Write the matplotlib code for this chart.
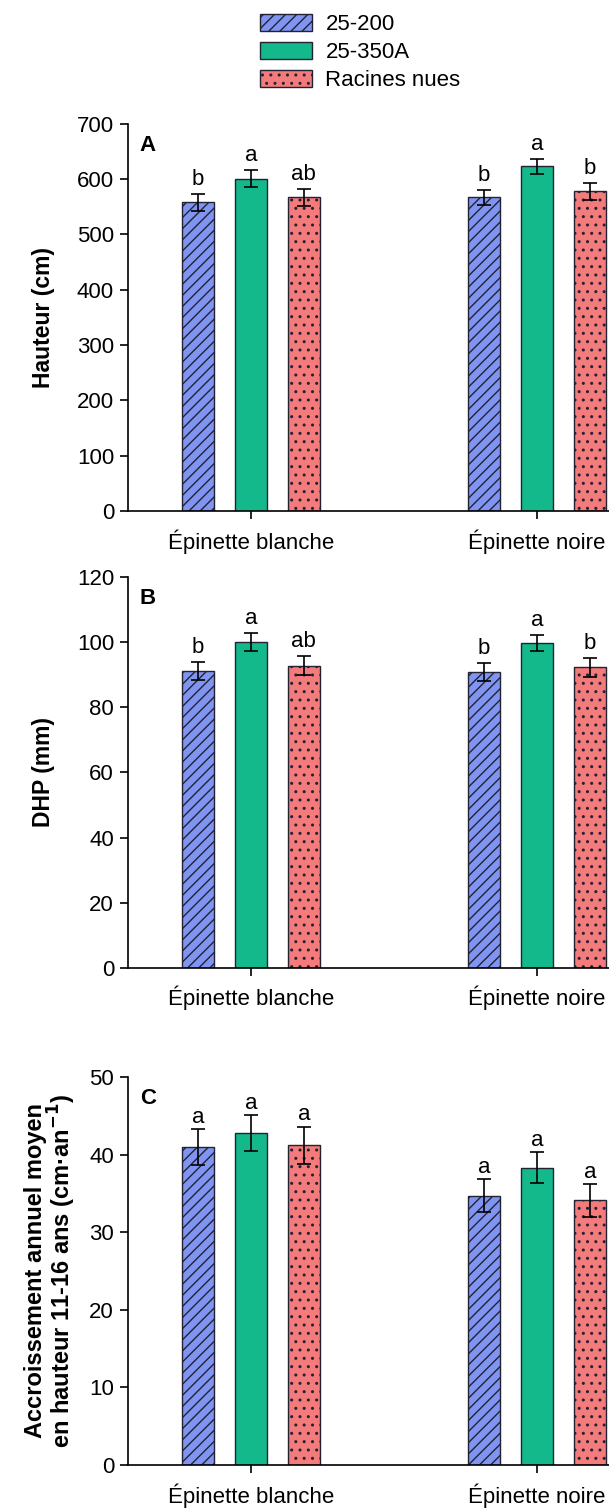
import numpy as np
import matplotlib
matplotlib.use('Agg')
import matplotlib.pyplot as plt

plt.rcParams['font.family'] = ['Liberation Sans', 'DejaVu Sans']
plt.rcParams['hatch.linewidth'] = 1.0

especes = ['Épinette blanche', 'Épinette noire']
traitements = ['25-200', '25-350A', 'Racines nues']
couleurs = ['#8094f2', '#13b98b', '#f47b7b']
hachures = ['///', '', '..']

# Hauteur (cm)
haut_moy = [[558, 567], [601, 623], [567, 578]]
haut_err = [[16, 14], [16, 14], [16, 15]]
haut_let = [['b', 'b'], ['a', 'a'], ['ab', 'b']]

# DHP (mm)
dhp_moy = [[91.2, 90.8], [100.0, 99.6], [92.7, 92.2]]
dhp_err = [[2.8, 2.7], [2.8, 2.5], [2.9, 2.8]]
dhp_let = [['b', 'b'], ['a', 'a'], ['ab', 'b']]

# Accroissement annuel moyen (cm/an)
acc_moy = [[41.0, 34.7], [42.8, 38.3], [41.2, 34.1]]
acc_err = [[2.3, 2.1], [2.3, 2.0], [2.4, 2.1]]
acc_let = [['a', 'a'], ['a', 'a'], ['a', 'a']]

panneaux = [
    ('A', haut_moy, haut_err, haut_let, 'Hauteur (cm)', 700, 100),
    ('B', dhp_moy, dhp_err, dhp_let, 'DHP (mm)', 120, 20),
    ('C', acc_moy, acc_err, acc_let,
     'Accroissement annuel moyen\nen hauteur 11-16 ans (cm·an$^{\\mathbf{-1}}$)', 50, 10),
]
positions = [(0.6615, 0.918), (0.359, 0.618), (0.0298, 0.2868)]
label_x = [-0.152, -0.152, -0.103]
label_fs = [16.5, 16.5, 17]
ecart = [6.5, 6.5, 4.5]

fig = plt.figure(figsize=(6.09, 15.10), dpi=100)
x = np.arange(len(especes))
decal = 0.185
larg = 0.112

for k, ((lettre, moy, err, lets, ylab, ymax, pas), (b, t)) in enumerate(zip(panneaux, positions)):
    ax = fig.add_axes([0.21, b, 0.79, t - b])
    for i in range(3):
        xi = x + (i - 1) * decal
        ax.bar(xi, moy[i], width=larg, color=couleurs[i], edgecolor='#222233',
               linewidth=1.0, hatch=hachures[i], label=traitements[i], zorder=2)
        ax.errorbar(xi, moy[i], yerr=err[i], fmt='none', ecolor='black',
                    elinewidth=1.2, capsize=5, capthick=1.2, zorder=3)
        for j in range(len(especes)):
            ax.annotate(lets[i][j], (xi[j], moy[i][j] + err[i][j]),
                        xytext=(0, ecart[k]), textcoords='offset points',
                        ha='center', va='baseline', fontsize=16)
    ax.set_xlim(-0.43, 1.252)
    ax.set_ylim(0, ymax)
    ax.set_yticks(np.arange(0, ymax + 1, pas))
    ax.set_xticks(x)
    ax.set_xticklabels(especes, fontsize=16)
    ax.tick_params(axis='y', labelsize=16, length=6, width=1.2, direction='out', pad=4)
    ax.tick_params(axis='x', length=6, width=1.2, direction='out', pad=7)
    ax.spines['top'].set_visible(False)
    ax.spines['right'].set_visible(False)
    ax.spines['left'].set_linewidth(1.2)
    ax.spines['bottom'].set_linewidth(1.2)
    ax.set_ylabel(ylab, fontsize=label_fs[k], fontweight='bold', linespacing=0.95)
    ax.yaxis.set_label_coords(label_x[k], 0.5)
    ax.text(0.025, 0.972, lettre, transform=ax.transAxes, fontsize=16,
            fontweight='bold', ha='left', va='top')
    if lettre == 'A':
        handles, labels = ax.get_legend_handles_labels()

fig.legend(handles, labels, loc='upper left', bbox_to_anchor=(0.427, 0.991),
           frameon=False, fontsize=16, handlelength=2.34, handleheight=0.8,
           labelspacing=0.32, handletextpad=0.6, borderpad=0, borderaxespad=0)

fig.savefig('out.png', dpi=100)
